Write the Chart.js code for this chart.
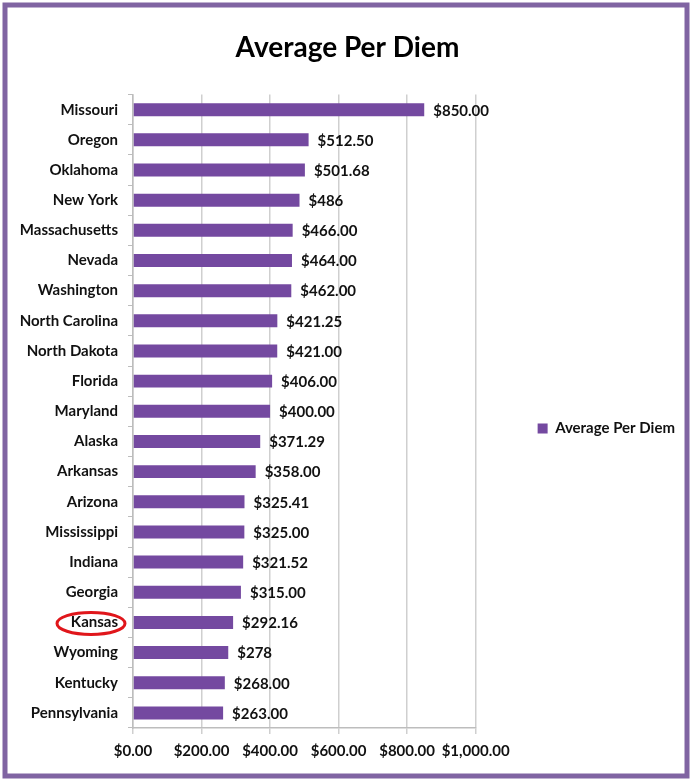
<!DOCTYPE html>
<html>
<head>
<meta charset="utf-8">
<script src="https://cdn.jsdelivr.net/npm/chart.js@4"></script>
<style>
  html, body { margin: 0; padding: 0; background: #fff; }
  #wrap { width: 692px; height: 781px; position: relative; }
</style>
</head>
<body>
<div id="wrap"><canvas id="canvas"></canvas></div>
<script>
// data
const states = ['Missouri', 'Oregon', 'Oklahoma', 'New York', 'Massachusetts', 'Nevada', 'Washington',
  'North Carolina', 'North Dakota', 'Florida', 'Maryland', 'Alaska', 'Arkansas', 'Arizona',
  'Mississippi', 'Indiana', 'Georgia', 'Kansas', 'Wyoming', 'Kentucky', 'Pennsylvania'];
const perDiem = [850, 512.5, 501.68, 486, 466, 464, 462, 421.25, 421, 406, 400, 371.29, 358, 325.41,
  325, 321.52, 315, 292.16, 278, 268, 263];
const valueLabels = ['$850.00', '$512.50', '$501.68', '$486', '$466.00', '$464.00', '$462.00',
  '$421.25', '$421.00', '$406.00', '$400.00', '$371.29', '$358.00', '$325.41', '$325.00',
  '$321.52', '$315.00', '$292.16', '$278', '$268.00', '$263.00'];
const xTicks = [0, 200, 400, 600, 800, 1000];
const circled = 'Kansas';

const FONT = "Lato, 'Liberation Sans Narrow', sans-serif";

let ctx = document.getElementById('canvas').getContext('2d');

// white background + purple frame
const framePlugin = {
  id: 'frame',
  beforeDraw(chart) {
    const c = chart.ctx;
    c.save();
    c.fillStyle = '#fff';
    c.fillRect(0, 0, chart.width, chart.height);
    c.strokeStyle = '#8064a2';
    c.lineWidth = 5;
    c.strokeRect(5, 5, chart.width - 10, chart.height - 10);
    c.restore();
  }
};

// value labels at the end of each bar, plus the red ring round Kansas
const labelPlugin = {
  id: 'valueLabels',
  afterDatasetsDraw(chart) {
    const c = chart.ctx;
    const meta = chart.getDatasetMeta(0);
    c.save();
    c.font = 'bold 15px ' + FONT;
    c.fillStyle = '#111';
    c.textBaseline = 'middle';
    meta.data.forEach((bar, i) => {
      c.fillText(valueLabels[i], bar.x + 9, bar.y + 1);
    });
    const y = chart.scales.y.getPixelForValue(states.indexOf(circled));
    c.strokeStyle = '#e0161b';
    c.lineWidth = 3;
    c.beginPath();
    c.ellipse(91, y + 1, 34, 11, 0, 0, Math.PI * 2);
    c.stroke();
    c.restore();
  }
};

let chart = new Chart(ctx, {
  type: 'bar',
  data: {
    labels: states,
    datasets: [{
      label: 'Average Per Diem',
      data: perDiem,
      xAxisID: 'x',
      yAxisID: 'y',
      backgroundColor: '#7449a0',
      borderWidth: 0,
      categoryPercentage: 0.86,
      barPercentage: 0.5
    }]
  },
  options: {
    indexAxis: 'y',
    responsive: true,
    maintainAspectRatio: false,
    animation: false,
    layout: { padding: { top: 15, left: 10, right: 7, bottom: 13 } },
    plugins: {
      title: {
        display: true,
        text: 'Average Per Diem',
        color: '#000',
        font: { family: FONT, size: 28, weight: 'bold' },
        padding: { top: 16, bottom: 30 }
      },
      legend: {
        position: 'right',
        title: { display: true, text: ' ', font: { size: 10 }, padding: { top: 31, bottom: 31 } },
        labels: {
          color: '#111',
          font: { family: FONT, size: 15, weight: 'bold' },
          boxWidth: 10,
          boxHeight: 10,
          padding: 10
        }
      },
      tooltip: { enabled: false }
    },
    scales: {
      x: {
        min: 0,
        max: 1000,
        afterBuildTicks(scale) {
          scale.ticks = xTicks.map(v => ({ value: v }));
        },
        ticks: {
          color: '#111',
          font: { family: FONT, size: 15, weight: 'bold' },
          padding: 8,
          autoSkip: false,
          maxRotation: 0,
          callback: v => '$' + Number(v).toLocaleString('en-US', { minimumFractionDigits: 2 })
        },
        grid: { color: '#cfcfcf', lineWidth: 1.5, tickLength: 6 },
        border: { color: '#bdbdbd', width: 1.5 }
      },
      y: {
        afterFit(scale) { scale.width = 123; },
        ticks: {
          color: '#111',
          font: { family: FONT, size: 15, weight: 'bold' },
          padding: 10
        },
        grid: { drawOnChartArea: false, color: '#bdbdbd', tickLength: 5, offset: true },
        border: { color: '#bdbdbd', width: 1.5 }
      },
      // empty gap between the plot and the legend
      gap: {
        type: 'linear',
        position: 'right',
        display: false,
        afterFit(scale) { scale.width = 52; }
      }
    }
  },
  plugins: [framePlugin, labelPlugin]
});
</script>
</body>
</html>
